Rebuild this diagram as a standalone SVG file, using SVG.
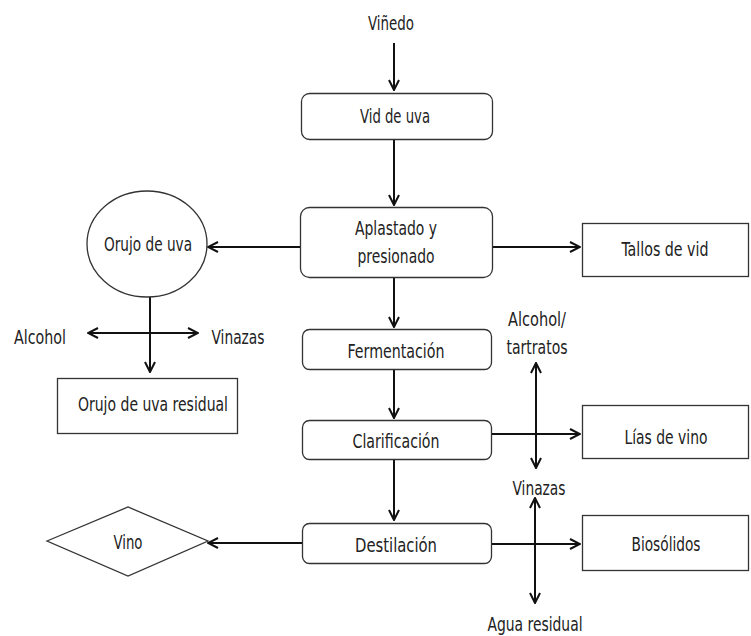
<svg xmlns="http://www.w3.org/2000/svg" width="751" height="636" viewBox="0 0 751 636">
  <style>
    text { font-family: "DejaVu Sans", "Liberation Sans", sans-serif; font-stretch: condensed; font-size: 19px; fill: #222; text-anchor: middle; }
    .box { fill: #fff; stroke: #333; stroke-width: 1.3; }
    .conn line { stroke: #111; stroke-width: 2; }
    .arr { marker-end: url(#head); }
    .dbl { marker-start: url(#head); marker-end: url(#head); }
  </style>
  <defs>
    <marker id="head" viewBox="0 0 12 12" refX="11" refY="6" markerWidth="12" markerHeight="12" markerUnits="userSpaceOnUse" orient="auto-start-reverse">
      <path d="M1,1 L11,6 L1,11" fill="none" stroke="#111" stroke-width="2"/>
    </marker>
  </defs>

  <rect width="751" height="636" fill="#fff"/>

  <!-- connectors -->
  <g id="connectors" class="conn">
    <line class="arr" x1="394" y1="43" x2="394" y2="90"/>
    <line class="arr" x1="394" y1="139" x2="394" y2="205"/>
    <line class="arr" x1="301" y1="247" x2="208" y2="247"/>
    <line class="arr" x1="493" y1="247" x2="580" y2="247"/>
    <line x1="150" y1="297" x2="150" y2="333"/>
    <line class="arr" x1="150" y1="333" x2="150" y2="372"/>
    <line class="dbl" x1="88" y1="333" x2="198" y2="333"/>
    <line class="arr" x1="394" y1="277" x2="394" y2="327"/>
    <line class="arr" x1="394" y1="369" x2="394" y2="418"/>
    <line class="arr" x1="492" y1="434" x2="580" y2="434"/>
    <line class="dbl" x1="536" y1="363" x2="536" y2="468"/>
    <line class="arr" x1="394" y1="459" x2="394" y2="520"/>
    <line class="arr" x1="302" y1="543" x2="208" y2="543"/>
    <line class="arr" x1="492" y1="544" x2="580" y2="544"/>
    <line class="dbl" x1="535" y1="498" x2="535" y2="603"/>
  </g>

  <g id="vinedo"><text x="391" y="30" textLength="46" lengthAdjust="spacingAndGlyphs">Viñedo</text></g>

  <g id="vid-de-uva">
    <rect class="box" x="301.5" y="93.5" width="191" height="46" rx="8"/>
    <text x="395" y="123" textLength="70" lengthAdjust="spacingAndGlyphs">Vid de uva</text>
  </g>

  <g id="aplastado">
    <rect class="box" x="300.5" y="207.5" width="192" height="70" rx="9"/>
    <text x="396" y="235" textLength="82" lengthAdjust="spacingAndGlyphs">Aplastado y</text>
    <text x="396" y="263" textLength="77" lengthAdjust="spacingAndGlyphs">presionado</text>
  </g>

  <g id="orujo">
    <ellipse class="box" cx="147" cy="244" rx="60" ry="53"/>
    <text x="148" y="251" textLength="88" lengthAdjust="spacingAndGlyphs">Orujo de uva</text>
  </g>

  <g id="tallos">
    <rect class="box" x="582.5" y="223.5" width="166" height="53"/>
    <text x="665" y="256" textLength="87" lengthAdjust="spacingAndGlyphs">Tallos de vid</text>
  </g>

  <g id="alcohol-1"><text x="40" y="344" textLength="52" lengthAdjust="spacingAndGlyphs">Alcohol</text></g>
  <g id="vinazas-1"><text x="238" y="344" textLength="53" lengthAdjust="spacingAndGlyphs">Vinazas</text></g>

  <g id="orujo-residual">
    <rect class="box" x="57.5" y="378.5" width="180" height="55"/>
    <text x="153" y="411" textLength="150" lengthAdjust="spacingAndGlyphs">Orujo de uva residual</text>
  </g>

  <g id="fermentacion">
    <rect class="box" x="302.5" y="329.5" width="189" height="40" rx="7"/>
    <text x="396" y="358" textLength="97" lengthAdjust="spacingAndGlyphs">Fermentación</text>
  </g>

  <g id="alcohol-tartratos">
    <text x="537" y="326" textLength="58" lengthAdjust="spacingAndGlyphs">Alcohol/</text>
    <text x="537" y="354" textLength="61" lengthAdjust="spacingAndGlyphs">tartratos</text>
  </g>

  <g id="clarificacion">
    <rect class="box" x="302.5" y="420.5" width="189" height="39" rx="7"/>
    <text x="396" y="448" textLength="87" lengthAdjust="spacingAndGlyphs">Clarificación</text>
  </g>

  <g id="lias">
    <rect class="box" x="582.5" y="405.5" width="166" height="53"/>
    <text x="666" y="444" textLength="83" lengthAdjust="spacingAndGlyphs">Lías de vino</text>
  </g>

  <g id="vinazas-2"><text x="539" y="495" textLength="53" lengthAdjust="spacingAndGlyphs">Vinazas</text></g>

  <g id="destilacion">
    <rect class="box" x="302.5" y="523.5" width="189" height="40" rx="7"/>
    <text x="396" y="552" textLength="82" lengthAdjust="spacingAndGlyphs">Destilación</text>
  </g>

  <g id="vino">
    <polygon class="box" points="47,541 128,507 208,541 128,576"/>
    <text x="128" y="549" textLength="29" lengthAdjust="spacingAndGlyphs">Vino</text>
  </g>

  <g id="biosolidos">
    <rect class="box" x="582.5" y="515.5" width="166" height="55"/>
    <text x="666" y="551" textLength="69" lengthAdjust="spacingAndGlyphs">Biosólidos</text>
  </g>

  <g id="agua-residual"><text x="535" y="631" textLength="95" lengthAdjust="spacingAndGlyphs">Agua residual</text></g>
</svg>
